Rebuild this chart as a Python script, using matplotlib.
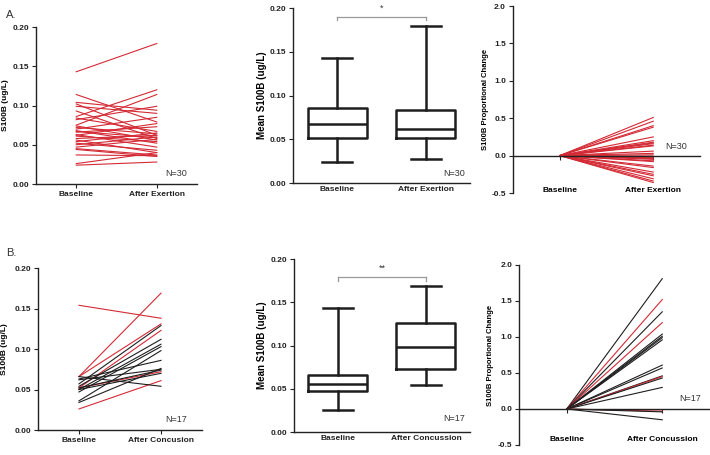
import matplotlib
matplotlib.use("Agg")
import matplotlib.pyplot as plt
import numpy as np

plt.rcParams['font.family'] = ['Liberation Sans', 'DejaVu Sans']

RED = "#d42a35"
BLACK = "#1e1e1e"

#Panel A - exertion
groups_a = ["Baseline", "After Exertion"]
a_base = [0.143, 0.114, 0.104, 0.102, 0.099, 0.093, 0.086, 0.084, 0.082, 0.075,
          0.074, 0.072, 0.070, 0.068, 0.067, 0.066, 0.063, 0.062, 0.061, 0.058,
          0.056, 0.054, 0.052, 0.050, 0.047, 0.045, 0.044, 0.037, 0.026, 0.024]
a_after = [0.179, 0.079, 0.094, 0.062, 0.090, 0.058, 0.120, 0.067, 0.099, 0.114,
           0.056, 0.064, 0.085, 0.052, 0.059, 0.073, 0.047, 0.077, 0.054, 0.062,
           0.040, 0.065, 0.043, 0.060, 0.057, 0.037, 0.035, 0.036, 0.040, 0.028]
#box stats: low whisker, q1, median, q3, high whisker
a_box = [[0.024, 0.051, 0.067, 0.086, 0.143],
         [0.028, 0.052, 0.062, 0.084, 0.179]]
a_sig = 0.19
a_star = "*"
a_prop = [0.51, 0.46, 0.40, 0.38, 0.25, 0.20, 0.18, 0.17, 0.16, 0.14,
          0.13, 0.06, 0.03, 0.01, 0.0, -0.01, -0.02, -0.03, -0.04, -0.05,
          -0.07, -0.08, -0.14, -0.16, -0.22, -0.25, -0.27, -0.31, -0.34, -0.36]

#Panel B - concussion
groups_b = ["Baseline", "After Concusion"]
groups_b2 = ["Baseline", "After Concussion"]
b_base = [0.154, 0.066, 0.066, 0.052, 0.052, 0.026,
          0.066, 0.063, 0.057, 0.054, 0.050, 0.047, 0.036, 0.034, 0.052, 0.050, 0.062]
b_after = [0.138, 0.169, 0.131, 0.123, 0.072, 0.061,
           0.054, 0.086, 0.129, 0.112, 0.106, 0.103, 0.098, 0.076, 0.074, 0.070, 0.075]
b_red = [True] * 6 + [False] * 11
b_box = [[0.026, 0.047, 0.055, 0.066, 0.143],
         [0.054, 0.073, 0.098, 0.126, 0.169]]
b_sig = 0.179
b_star = "**"
b_prop = [1.81, 1.52, 1.35, 1.20, 1.04, 1.01, 0.99, 0.96, 0.61, 0.57,
          0.46, 0.45, 0.43, 0.30, -0.03, -0.04, -0.15]
b_prop_red = [False, True, False, True, False, False, False, False, False, False,
              False, True, False, False, True, False, False]

TICK_FS = 6


def style_axis(ax, ylim, yticks, fmt, ylabel, lsize, lx):
    ax.set_ylim(*ylim)
    ax.set_yticks(yticks)
    ax.set_yticklabels([fmt % t for t in yticks], fontsize=TICK_FS, fontweight="bold")
    ax.set_ylabel(ylabel, fontsize=lsize, fontweight="bold")
    ax.yaxis.set_label_coords(lx, 0.5)
    ax.set_xlim(-0.5, 1.5)
    for s in ["top", "right"]:
        ax.spines[s].set_visible(False)
    for s in ["left", "bottom"]:
        ax.spines[s].set_linewidth(1.0)
        ax.spines[s].set_color("#222222")
    ax.tick_params(length=3, width=0.8, pad=2, colors="#222222")


def pair_plot(ax, base, after, groups, colors, ntext, nx, lx):
    for b, a, c in zip(base, after, colors):
        ax.plot([0, 1], [b, a], color=c, lw=0.8)
    style_axis(ax, (0, 0.2), [0.0, 0.05, 0.10, 0.15, 0.20], "%.2f",
               "S100B (ug/L)", 6, lx)
    ax.set_xticks([0, 1])
    ax.set_xticklabels(groups, fontsize=TICK_FS, fontweight="bold")
    ax.text(nx, 0.013, ntext, fontsize=6.5, color="#333333", ha="left", va="center")


def box_plot(ax, stats, groups, sig, star, ntext, ny, lx):
    bx = []
    for s in stats:
        bx.append({"whislo": s[0], "q1": s[1], "med": s[2], "q3": s[3], "whishi": s[4]})
    lp = dict(color=BLACK, lw=1.8)
    ax.bxp(bx, positions=[0, 1], widths=0.67, showfliers=False,
           boxprops=lp, whiskerprops=lp, capprops=lp, medianprops=lp)
    style_axis(ax, (0, 0.2), [0.0, 0.05, 0.10, 0.15, 0.20], "%.2f",
               "Mean S100B (ug/L)", 7, lx)
    ax.set_xticks([0, 1])
    ax.set_xticklabels(groups, fontsize=TICK_FS, fontweight="bold")
    ax.tick_params(axis="x", length=0)
    ax.plot([0, 1], [sig, sig], color="#999999", lw=0.9, clip_on=False)
    for x in [0, 1]:
        ax.plot([x, x], [sig, sig - 0.004], color="#999999", lw=0.9, clip_on=False)
    ax.text(0.5, sig + 0.005, star, fontsize=6.5, ha="center", va="bottom", color="#333333")
    ax.text(1.2, ny, ntext, fontsize=6.5, color="#333333", ha="left", va="center")


def prop_plot(ax, vals, colors, groups, label_y, ntext, nx, ny, lx):
    for v, c in zip(vals, colors):
        ax.plot([0, 1], [0, v], color=c, lw=0.8)
    style_axis(ax, (-0.5, 2.0), [-0.5, 0.0, 0.5, 1.0, 1.5, 2.0], "%.1f",
               "S100B Proportional Change", 5.5, lx)
    ax.spines["bottom"].set_position(("data", 0))
    ax.set_xticks([0, 1])
    ax.set_xticklabels(["", ""])
    for i, g in enumerate(groups):
        ax.text(i, label_y, g, fontsize=TICK_FS, fontweight="bold", ha="center", va="center")
    ax.text(nx, ny, ntext, fontsize=6.5, color="#333333", ha="left", va="center")


fig = plt.figure(figsize=(7.1, 4.55), dpi=100)

ax1 = fig.add_axes([0.0507, 0.5956, 0.2268, 0.345])
ax2 = fig.add_axes([0.4127, 0.5978, 0.2493, 0.3846])
ax3 = fig.add_axes([0.7225, 0.5758, 0.2634, 0.411])
ax4 = fig.add_axes([0.0535, 0.0549, 0.2310, 0.356])
ax5 = fig.add_axes([0.414, 0.0505, 0.2479, 0.3802])
ax6 = fig.add_axes([0.731, 0.022, 0.269, 0.3956])

pair_plot(ax1, a_base, a_after, groups_a, [RED] * len(a_base), "N=30", 1.11, -0.167)
box_plot(ax2, a_box, groups_a, a_sig, a_star, "N=30", 0.011, -0.147)
prop_plot(ax3, a_prop, [RED] * len(a_prop), groups_a, -0.46, "N=30", 1.13, 0.12, -0.128)

pair_plot(ax4, b_base, b_after, groups_b,
          [RED if r else BLACK for r in b_red], "N=17", 1.05, -0.184)
box_plot(ax5, b_box, groups_b2, b_sig, b_star, "N=17", 0.016, -0.153)
prop_plot(ax6, b_prop, [RED if r else BLACK for r in b_prop_red], groups_b2,
          -0.42, "N=17", 1.18, 0.14, -0.131)

fig.text(0.008, 0.978, "A.", fontsize=8, va="top", color="#333333")
fig.text(0.008, 0.455, "B.", fontsize=8, va="top", color="#333333")

fig.savefig("out.png", dpi=100)
